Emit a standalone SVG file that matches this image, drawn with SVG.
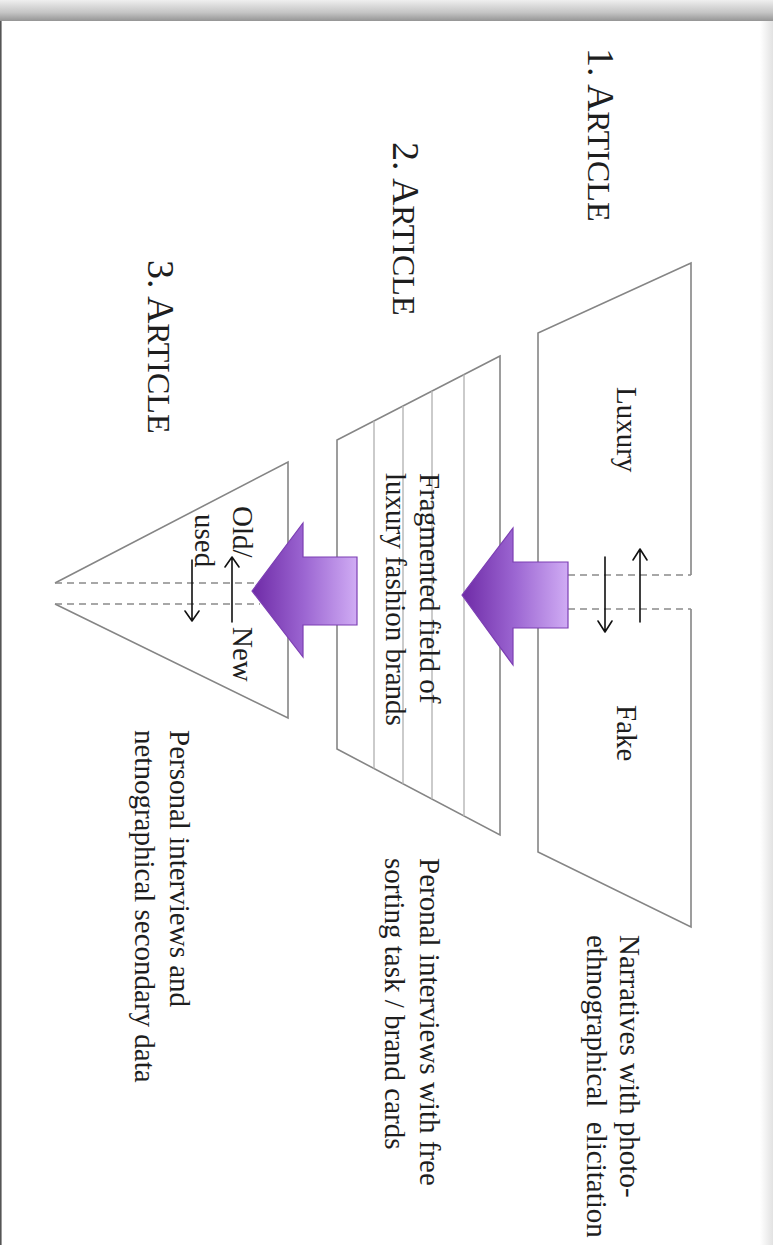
<svg xmlns="http://www.w3.org/2000/svg" width="773" height="1245" viewBox="0 0 773 1245">
<style>
.shape{fill:none;stroke:#858585;stroke-width:1.6}
.inner{fill:none;stroke:#b5b5b5;stroke-width:1.4}
.dash{fill:none;stroke:#8a8a8a;stroke-width:1.4;stroke-dasharray:7 5}
.arr{fill:none;stroke:#111;stroke-width:1.6;stroke-linecap:round;stroke-linejoin:round}
.big{fill:url(#pg);stroke:#7c3fb3;stroke-width:1.2}
text{font-family:"Liberation Serif","Times New Roman",serif;fill:#1e1e1e}
.t{font-size:29px}
.h{font-size:38px}
.hs{font-size:32px}
</style>
<defs>
<linearGradient id="pg" x1="0" y1="0" x2="1" y2="0">
<stop offset="0" stop-color="#6e2aa6"/>
<stop offset="0.5" stop-color="#9c66d2"/>
<stop offset="1" stop-color="#d0acf4"/>
</linearGradient>
<linearGradient id="topsh" x1="0" y1="0" x2="0" y2="1">
<stop offset="0" stop-color="#efefef"/>
<stop offset="0.6" stop-color="#c4c4c4"/>
<stop offset="1" stop-color="#959595"/>
</linearGradient>
<linearGradient id="rsh" x1="0" y1="0" x2="1" y2="0">
<stop offset="0" stop-color="#ffffff"/>
<stop offset="1" stop-color="#e2e2e2"/>
</linearGradient>
</defs>
<rect x="0" y="0" width="773" height="1245" fill="#ffffff"/>
<rect x="0" y="0" width="773" height="21" fill="url(#topsh)"/>
<rect x="760" y="21" width="13" height="1224" fill="url(#rsh)"/>
<line x1="0.8" y1="21" x2="0.8" y2="1245" stroke="#555" stroke-width="1.6"/>

<g id="article1">
<path class="shape" d="M691,575 L691,263 L538,333 L538,852 L691,927 L691,609"/>
<text class="t" transform="translate(617,387) rotate(90)">Luxury</text>
<text class="t" transform="translate(617,705) rotate(90)">Fake</text>
</g>

<g id="article2">
<path class="shape" d="M500,356 L337,440 L337,749 L500,835 Z"/>
<line class="inner" x1="374" y1="420.9" x2="374" y2="768.5"/>
<line class="inner" x1="403" y1="406" x2="403" y2="783.8"/>
<line class="inner" x1="432" y1="391" x2="432" y2="799.1"/>
<line class="inner" x1="464" y1="374.6" x2="464" y2="816"/>
<text class="t" transform="translate(420,473) rotate(90)">Fragmented field of</text>
<text class="t" transform="translate(386,473) rotate(90)">luxury fashion brands</text>
</g>

<g id="article3">
<path class="shape" d="M55,583 L288,462 L288,718 L55,604"/>
<text class="t" transform="translate(233,506) rotate(90)">Old/</text>
<text class="t" transform="translate(195,514) rotate(90)">used</text>
<text class="t" transform="translate(233,627) rotate(90)">New</text>
</g>

<g id="labels">
<text transform="translate(588,48) rotate(90)"><tspan class="h">1. A</tspan><tspan class="hs">RTICLE</tspan></text>
<text transform="translate(393,142) rotate(90)"><tspan class="h">2. A</tspan><tspan class="hs">RTICLE</tspan></text>
<text transform="translate(148,260) rotate(90)"><tspan class="h">3. A</tspan><tspan class="hs">RTICLE</tspan></text>
<text class="t" transform="translate(620,935) rotate(90)">Narratives with photo-</text>
<text class="t" transform="translate(587,935) rotate(90)" xml:space="preserve">ethnographical  elicitation</text>
<text class="t" transform="translate(420,858) rotate(90)">Peronal interviews with free</text>
<text class="t" transform="translate(385,858) rotate(90)">sorting task / brand cards</text>
<text class="t" transform="translate(170,730) rotate(90)">Personal interviews and</text>
<text class="t" transform="translate(135,730) rotate(90)">netnographical secondary data</text>
</g>

<g id="connectors">
<line class="dash" x1="568" y1="575" x2="691" y2="575"/>
<line class="dash" x1="568" y1="609" x2="691" y2="609"/>
<line class="dash" x1="55" y1="583" x2="260" y2="583"/>
<line class="dash" x1="55" y1="604" x2="260" y2="604"/>
<path class="arr" d="M640,622 L640,549 M633,560 L640,549 L647,560"/>
<path class="arr" d="M605,557 L605,632 M598,621 L605,632 L612,621"/>
<path class="arr" d="M232,622 L232,557 M225,567 L232,557 L239,567"/>
<path class="arr" d="M192,560 L192,621 M185,611 L192,621 L199,611"/>
<path id="bigarrow1" class="big" d="M462,595 L513,528 L513,562 L568,562 L568,628 L513,628 L513,665 Z"/>
<path id="bigarrow2" class="big" d="M252,591 L303,523 L303,557 L357,557 L357,625 L303,625 L303,657 Z"/>
</g>
</svg>
